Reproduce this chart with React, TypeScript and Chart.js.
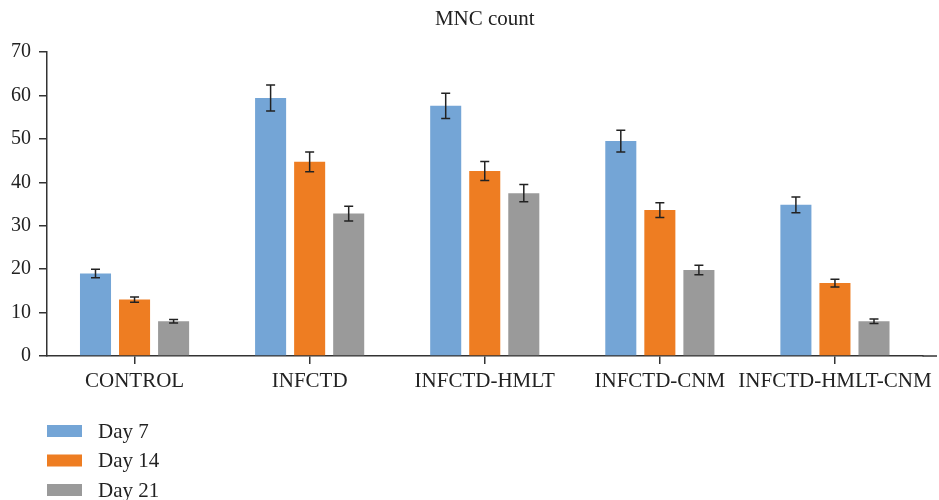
import React, { useEffect, useRef } from "react";
import { Chart, registerables } from "chart.js";

Chart.register(...registerables);

const categories = ["CONTROL", "INFCTD", "INFCTD-HMLT", "INFCTD-CNM", "INFCTD-HMLT-CNM"];
const seriesLabels = ["Day 7", "Day 14", "Day 21"];
const day7 = [19, 59.4, 57.6, 49.5, 34.8];
const day14 = [13, 44.7, 42.6, 33.6, 16.8];
const day21 = [8, 32.8, 37.5, 19.8, 8];
const day7Err = [1.0, 3.0, 2.9, 2.5, 1.8];
const day14Err = [0.6, 2.3, 2.2, 1.7, 0.9];
const day21Err = [0.4, 1.7, 2.0, 1.1, 0.5];
const colors = ["#74A5D6", "#EE7D22", "#9A9A9A"];
const yTicks = [0, 10, 20, 30, 40, 50, 60, 70];

const FONT = "'Liberation Serif', 'DejaVu Serif', serif";
const errs = [day7Err, day14Err, day21Err];

const errorBarPlugin = {
  id: "errorBars",
  afterDatasetsDraw(chart: any) {
    const ctx = chart.ctx;
    const y = chart.scales.y;
    ctx.save();
    ctx.strokeStyle = "#222";
    ctx.lineWidth = 1.5;
    chart.data.datasets.forEach((ds: any, i: number) => {
      const meta = chart.getDatasetMeta(i);
      meta.data.forEach((el: any, j: number) => {
        const v = ds.data[j];
        const e = errs[i][j];
        const yt = y.getPixelForValue(v + e);
        const yb = y.getPixelForValue(v - e);
        const x = el.x;
        ctx.beginPath();
        ctx.moveTo(x, yt);
        ctx.lineTo(x, yb);
        ctx.moveTo(x - 4.5, yt);
        ctx.lineTo(x + 4.5, yt);
        ctx.moveTo(x - 4.5, yb);
        ctx.lineTo(x + 4.5, yb);
        ctx.stroke();
      });
    });
    ctx.restore();
  },
};

const legendPlugin = {
  id: "customLegend",
  afterDraw(chart: any) {
    const ctx = chart.ctx;
    const area = chart.chartArea;
    ctx.save();
    ctx.strokeStyle = "#333";
    ctx.lineWidth = 1.5;
    ctx.beginPath();
    ctx.moveTo(area.right, area.bottom);
    ctx.lineTo(937, area.bottom);
    ctx.stroke();
    ctx.font = `21px ${FONT}`;
    ctx.textBaseline = "middle";
    ctx.textAlign = "left";
    chart.data.datasets.forEach((ds: any, i: number) => {
      const cy = 431 + i * 29.5;
      ctx.fillStyle = ds.backgroundColor;
      ctx.fillRect(47, cy - 6, 35, 12);
      ctx.fillStyle = "#222";
      ctx.fillText(ds.label, 98, cy + 1);
    });
    ctx.restore();
  },
};

export default function App() {
  const ref = useRef<HTMLCanvasElement | null>(null);
  useEffect(() => {
    document.body.style.margin = "0";
    const data = [day7, day14, day21];
    const chart = new Chart(ref.current as HTMLCanvasElement, {
      type: "bar",
      data: {
        labels: categories,
        datasets: seriesLabels.map((l, i) => ({
          label: l,
          data: data[i],
          backgroundColor: colors[i],
          categoryPercentage: 0.669,
          barPercentage: 0.795,
        })),
      },
      options: {
        animation: false,
        responsive: false,
        layout: { padding: { top: 0, right: 16.5, left: 0, bottom: 0 } },
        plugins: {
          legend: { display: false },
          tooltip: { enabled: false },
          title: {
            display: true,
            fullSize: false,
            text: "MNC count",
            color: "#222",
            font: { family: FONT, size: 21, weight: "normal" },
            padding: { top: 6.4, bottom: 20.4 },
          },
        },
        scales: {
          x: {
            grid: { display: true, drawOnChartArea: false, offset: false, tickLength: 8, color: "#333", lineWidth: 1.5 },
            border: { display: true, color: "#333", width: 1.5 },
            ticks: { color: "#222", font: { family: FONT, size: 21 }, padding: 5, maxRotation: 0, autoSkip: false },
            afterFit: (s: any) => { s.height = 144; },
          },
          y: {
            min: 0,
            max: 70,
            afterBuildTicks: (s: any) => { s.ticks = yTicks.map((v) => ({ value: v })); },
            grid: { display: true, drawOnChartArea: false, tickLength: 8, color: "#333", lineWidth: 1.5 },
            border: { display: true, color: "#333", width: 1.5 },
            ticks: { color: "#222", font: { family: FONT, size: 20 }, padding: 8 },
            afterFit: (s: any) => { s.width = 47; },
          },
        },
      },
      plugins: [errorBarPlugin, legendPlugin],
    } as any);
    return () => chart.destroy();
  }, []);
  return (
    <div style={{ width: 939, height: 500 }}>
      <canvas ref={ref} width={939} height={500} style={{ display: "block" }} />
    </div>
  );
}
